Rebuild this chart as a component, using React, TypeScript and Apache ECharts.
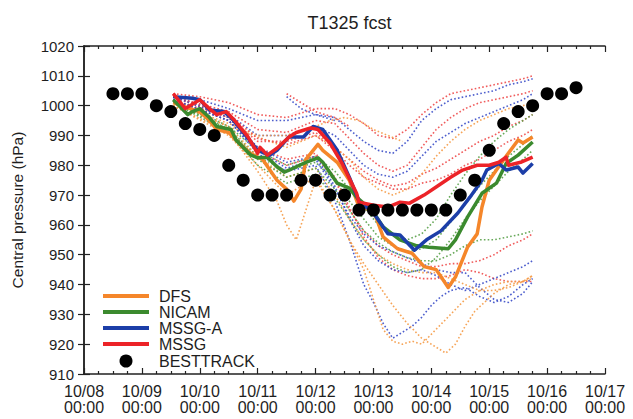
import { useEffect, useRef } from "react";
import * as echarts from "echarts";

// x values are hours since 10/08 00:00
const dayLabels = ["10/08", "10/09", "10/10", "10/11", "10/12", "10/13", "10/14", "10/15", "10/16", "10/17"];

const dfsHours = [37, 44, 48, 52, 55, 60, 63, 69, 74, 80, 84, 87, 90, 92, 97, 99, 105, 110, 114, 120, 124, 130, 136, 141, 146, 151, 154, 159, 163, 165, 168, 175, 180, 182, 186];
const dfsHPa = [1001, 999, 998, 995, 992, 991, 988.5, 984, 982, 975, 972, 968, 972, 982, 987, 985, 981, 975, 966, 965, 956, 952, 950.5, 946, 945, 939, 942.5, 952.5, 957, 966, 975, 983, 988.5, 987.5, 989.5];

const nicamHours = [37, 43, 45, 48, 52, 55, 61, 63, 69, 72, 76, 80, 83, 85, 88, 92, 97, 99, 105, 110, 113, 120, 124, 131, 138, 143, 151, 154, 159, 165, 171, 175, 180, 186];
const nicamHPa = [1002, 997, 998, 999, 996, 993, 992, 988.5, 983.5, 982.5, 982.7, 979.5, 977.7, 978.4, 979.5, 981, 982.5, 981, 974, 972.3, 969.3, 964.3, 959.3, 955, 953, 952.5, 952, 955, 962.6, 970.6, 974, 980.6, 983.4, 987.8];

const mssgaHours = [37, 45, 48, 52, 58, 61, 66, 72, 77, 80, 85, 91, 95, 99, 105, 110, 114, 120, 126, 131, 137, 142, 148, 155, 160, 165, 167, 172, 175, 180, 182, 186];
const mssgaHPa = [1003, 1002.5, 1002, 998.5, 998, 996, 991, 985, 983.4, 985, 989.5, 989.5, 993, 992, 985, 976, 968, 964, 957, 956.6, 951.5, 955, 958, 964, 969.3, 975, 978.4, 980.6, 978.4, 979.4, 977.4, 980.6];

const mssgHours = [37, 42, 44, 48, 52, 55, 59, 63, 68, 72, 73, 76, 80, 85, 88, 94, 97, 102, 107, 113, 114, 120, 126, 131, 135, 141, 146, 152, 157, 163, 168, 172, 175, 176, 181, 186];
const mssgHPa = [1004, 999, 1000, 1002, 999, 997, 998, 994.5, 989.5, 984, 986, 983.4, 985.7, 989.5, 991, 992.5, 992, 987.4, 980.6, 970.6, 967.6, 966.6, 966, 967.6, 967.3, 970, 972.7, 976, 978.4, 980, 980, 981, 982.7, 980, 981, 982.7];

const bestHours = [12, 18, 24, 30, 36, 42, 48, 54, 60, 66, 72, 78, 84, 90, 96, 102, 108, 114, 120, 126, 132, 138, 144, 150, 156, 162, 168, 174, 180, 186, 192, 198, 204];
const bestHPa = [1004, 1004, 1004, 1000, 998, 994, 992, 990, 980, 975, 970, 970, 970, 975, 975, 970, 970, 965, 965, 965, 965, 965, 965, 965, 970, 975, 985, 994, 998, 1000, 1004, 1004, 1006];

// ensemble members [hour, hPa]
const ensR1 = [[37,1004],[48,1003],[60,1001],[72,997],[84,996],[96,999],[104,999],[110,997],[116,994],[122,990],[128,989],[134,992],[140,997],[146,1001],[152,1004],[158,1005],[164,1006],[170,1007],[176,1008],[182,1009],[186,1010]];
const ensB1 = [[37,1003],[48,1002],[60,999],[72,995],[84,995],[96,997],[104,996],[110,992],[116,988],[122,985],[128,984],[134,988],[140,995],[146,999],[152,1002],[158,1003],[164,1004],[170,1005],[176,1007],[182,1008],[186,1009]];
const ensR2 = [[37,1003],[60,998],[72,992],[84,991],[96,995],[104,994],[110,989],[116,984],[122,980],[128,978],[134,980],[140,986],[146,992],[152,996],[158,999],[164,1001],[170,1002],[176,1003],[182,1004],[186,1005]];
const ensB2 = [[37,1003],[60,997],[72,990],[84,990],[96,993],[104,990],[110,985],[116,980],[122,977],[128,976],[134,978],[140,983],[146,988],[152,991],[158,994],[164,996],[170,998],[176,1000],[182,1002],[186,1004]];
const ensR3 = [[37,1002],[60,996],[72,988],[84,988],[96,991],[104,986],[110,982],[116,978],[122,975],[128,973],[134,974],[140,977],[146,979],[152,982],[158,985],[164,988],[170,990],[176,993],[182,995],[186,997]];
const ensO3 = [[37,1001],[60,994],[72,990],[84,990],[96,993],[102,995],[108,996],[114,995],[120,992],[126,990],[132,988]];
const ensO4 = [[37,1001],[60,993],[84,986],[96,990],[104,986],[110,982],[116,976],[122,972],[128,970],[134,972],[140,977],[146,983],[152,988],[158,992],[164,995],[170,997],[176,999],[182,1000],[186,1001]];
const ensR4 = [[37,1003],[60,997],[72,989],[84,987],[96,990],[104,985],[110,980],[116,976],[122,974],[128,972],[134,972],[140,974],[146,975],[152,977],[158,980],[164,982],[170,985],[176,988],[182,990],[186,992]];
const ensG1 = [[37,1002],[60,993],[72,985],[84,980],[96,983],[104,978],[110,972],[116,966],[122,960],[128,957],[134,955],[140,957],[146,962],[152,970],[158,977],[164,983],[170,988],[176,992],[182,995],[186,997]];
const ensG4 = [[37,1002],[60,992],[72,983],[84,978],[96,981],[104,975],[110,968],[116,962],[122,956],[128,953],[134,951],[140,952],[146,955],[152,961],[158,967],[164,973],[170,978],[176,983],[182,987],[186,990]];
const ensR5 = [[37,1002],[60,995],[72,985],[84,980],[96,983],[104,975],[110,965],[116,958],[122,953],[128,950],[134,948],[140,946],[146,946],[152,947],[158,947],[164,948],[170,950],[176,953],[182,955],[186,957]];
const ensR6 = [[37,1003],[60,996],[72,986],[84,982],[96,984],[104,976],[110,966],[116,956],[122,949],[128,945],[134,943],[140,942],[146,942],[152,943],[158,945],[164,944],[170,942],[176,941],[182,941],[186,941]];
const ensB3 = [[37,1002],[60,995],[72,984],[84,978],[96,980],[104,968],[110,955],[116,940],[120,934],[124,927],[128,922],[132,924],[136,926],[140,929],[144,933],[148,936],[152,938],[158,939],[164,936],[170,934],[176,936],[182,940],[186,942]];
const ensB4 = [[37,1003],[60,996],[72,986],[84,981],[96,983],[104,973],[110,962],[116,953],[122,948],[128,945],[134,944],[140,945],[146,943],[152,940],[158,938],[164,940],[170,942],[176,944],[182,946],[186,948]];
const ensB5 = [[37,1002],[60,995],[72,985],[84,979],[96,982],[104,972],[110,963],[116,957],[122,953],[128,951],[134,949],[140,947],[146,945],[152,944],[158,944],[164,939],[170,935],[176,934],[182,937],[186,941]];
const ensO1 = [[37,1000],[60,990],[72,980],[84,970],[96,976],[104,965],[110,955],[116,947],[122,940],[128,933],[134,927],[140,922],[146,919],[150,917],[154,920],[158,926],[162,931],[166,934],[170,937],[176,940],[182,941],[186,943]];
const ensO2 = [[37,1000],[60,991],[72,978],[80,968],[84,960],[88,955],[92,965],[96,975],[104,965],[110,955],[116,945],[120,935],[124,925],[128,921],[132,920],[136,921],[140,920],[146,925],[152,930],[158,935],[164,938],[170,940],[176,941],[182,941],[186,942]];
const ensO5 = [[37,1001],[60,993],[72,983],[84,976],[96,979],[104,970],[110,962],[116,955],[122,950],[128,947],[134,945],[140,944],[146,944],[152,942],[158,940],[164,938],[170,938],[176,939],[182,941],[186,943]];
const ensG2 = [[37,1001],[60,992],[72,982],[84,976],[96,979],[104,972],[110,965],[116,958],[122,954],[128,951],[134,949],[140,948],[146,948],[152,950],[158,953],[164,955],[170,955],[176,956],[182,957],[186,958]];
const ensG3 = [[37,1001],[60,991],[72,980],[84,974],[96,977],[104,969],[110,962],[116,955],[122,950],[128,946],[134,944],[140,945],[146,949],[152,955],[158,962],[164,968],[170,973],[176,978],[182,982],[186,985]];
const ensR7 = [[84,1004],[90,1001],[96,998],[104,996],[110,993]];
const ensB6 = [[84,1003],[90,999],[96,997],[104,995]];

const COLORS = { DFS: "#f5862a", NICAM: "#3b8a2e", "MSSG-A": "#1c3ea8", MSSG: "#ec2328" };
const ENS_COLORS = { r: "#ee4a4a", b: "#3a4cc8", o: "#f59a45", g: "#58a048" };

const ensembles: [number[][], string][] = [
  [ensR1, "r"], [ensB1, "b"], [ensR2, "r"], [ensB2, "b"], [ensR3, "r"], [ensO3, "o"], [ensO4, "o"],
  [ensR4, "r"], [ensG1, "g"], [ensG4, "g"], [ensR5, "r"], [ensR6, "r"], [ensB3, "b"], [ensB4, "b"],
  [ensB5, "b"], [ensO1, "o"], [ensO2, "o"], [ensO5, "o"], [ensG2, "g"], [ensG3, "g"], [ensR7, "r"], [ensB6, "b"],
];

const zip = (xs: number[], ys: number[]) => xs.map((x, i) => [x, ys[i]]);

const FONT = "Liberation Sans, Arial, Helvetica, sans-serif";
const TEXT = "#1e1e1e";

export default function App() {
  const ref = useRef<HTMLDivElement>(null);
  useEffect(() => {
    const chart = echarts.init(ref.current!, undefined, { renderer: "svg" });
    const ensSeries = ensembles.map(([d, c], i) => ({
      type: "line",
      name: "ens" + i,
      data: d,
      xAxisIndex: 0,
      yAxisIndex: 0,
      showSymbol: false,
      symbol: "none",
      silent: true,
      z: 1,
      lineStyle: { color: (ENS_COLORS as any)[c], width: 1.6, type: [1.6, 2.2], opacity: 0.9 },
    }));
    const mainLine = (name: string, xs: number[], ys: number[], z: number) => ({
      type: "line",
      name,
      data: zip(xs, ys),
      xAxisIndex: 0,
      yAxisIndex: 0,
      symbol: "none",
      z,
      lineStyle: { color: (COLORS as any)[name], width: 3.5, join: "round" },
      itemStyle: { color: (COLORS as any)[name] },
    });
    const axisLine = { show: true, lineStyle: { color: "#222", width: 1.5 } };
    const legendItems = [
      ["DFS", COLORS.DFS, 296],
      ["NICAM", COLORS.NICAM, 312],
      ["MSSG-A", COLORS["MSSG-A"], 328],
      ["MSSG", COLORS.MSSG, 344],
    ] as [string, string, number][];
    const graphic: any[] = [];
    legendItems.forEach(([n, c, y]) => {
      graphic.push({ type: "line", shape: { x1: 103, y1: y, x2: 149, y2: y }, style: { stroke: c, lineWidth: 4 }, z: 10 });
      graphic.push({ type: "text", x: 159, y, style: { text: n, fontSize: 16, fontFamily: FONT, fill: TEXT, verticalAlign: "middle" }, z: 10 });
    });
    graphic.push({ type: "circle", shape: { cx: 126, cy: 361, r: 6.5 }, style: { fill: "#000" }, z: 10 });
    graphic.push({ type: "text", x: 159, y: 361, style: { text: "BESTTRACK", fontSize: 16, fontFamily: FONT, fill: TEXT, verticalAlign: "middle" }, z: 10 });

    chart.setOption({
      animation: false,
      backgroundColor: "#fff",
      title: {
        text: "T1325 fcst",
        left: 344.5,
        top: 9,
        textAlign: "center",
        textStyle: { fontSize: 18, fontWeight: "normal", color: TEXT, fontFamily: FONT },
      },
      grid: { left: 84, right: 28, top: 46, bottom: 45, containLabel: false },
      xAxis: [
        {
          type: "value",
          min: 0,
          max: 216,
          interval: 24,
          position: "bottom",
          axisLine,
          axisTick: { inside: true, length: 6, lineStyle: { color: "#222", width: 1.2 } },
          minorTick: { show: true, splitNumber: 4, length: 3, lineStyle: { color: "#222", width: 1.2 } },
          splitLine: { show: false },
          axisLabel: {
            formatter: (v: number) => `${dayLabels[Math.round(v / 24)]}\n00:00`,
            fontSize: 16,
            lineHeight: 16,
            color: TEXT,
            fontFamily: FONT,
            margin: 9,
          },
        },
        {
          type: "value",
          min: 0,
          max: 216,
          interval: 24,
          position: "top",
          axisLine,
          axisTick: { inside: true, length: 6, lineStyle: { color: "#222", width: 1.2 } },
          minorTick: { show: true, splitNumber: 4, length: 3, lineStyle: { color: "#222", width: 1.2 } },
          splitLine: { show: false },
          axisLabel: { show: false },
        },
      ],
      yAxis: [
        {
          type: "value",
          min: 910,
          max: 1020,
          interval: 10,
          position: "left",
          axisLine,
          axisTick: { inside: true, length: 6, lineStyle: { color: "#222", width: 1.2 } },
          splitLine: { show: false },
          axisLabel: { fontSize: 15, color: TEXT, fontFamily: FONT, margin: 10, formatter: (v: number) => String(v) },
          name: "Central pressure (hPa)",
          nameLocation: "middle",
          nameGap: 59,
          nameTextStyle: { fontSize: 15.5, color: TEXT, fontFamily: FONT },
        },
        {
          type: "value",
          min: 910,
          max: 1020,
          interval: 10,
          position: "right",
          axisLine,
          axisTick: { inside: true, length: 6, lineStyle: { color: "#222", width: 1.2 } },
          splitLine: { show: false },
          axisLabel: { show: false },
        },
      ],
      series: [
        ...ensSeries,
        mainLine("DFS", dfsHours, dfsHPa, 3),
        mainLine("NICAM", nicamHours, nicamHPa, 4),
        mainLine("MSSG-A", mssgaHours, mssgaHPa, 5),
        mainLine("MSSG", mssgHours, mssgHPa, 6),
        {
          type: "scatter",
          name: "BESTTRACK",
          data: zip(bestHours, bestHPa),
          symbol: "circle",
          symbolSize: 13,
          z: 7,
          itemStyle: { color: "#000", opacity: 1 },
        },
      ],
      graphic,
    });
    return () => chart.dispose();
  }, []);
  return (
    <div
      ref={ref}
      style={{ position: "fixed", left: 0, top: 0, width: 633, height: 419, background: "#fff" }}
    />
  );
}
